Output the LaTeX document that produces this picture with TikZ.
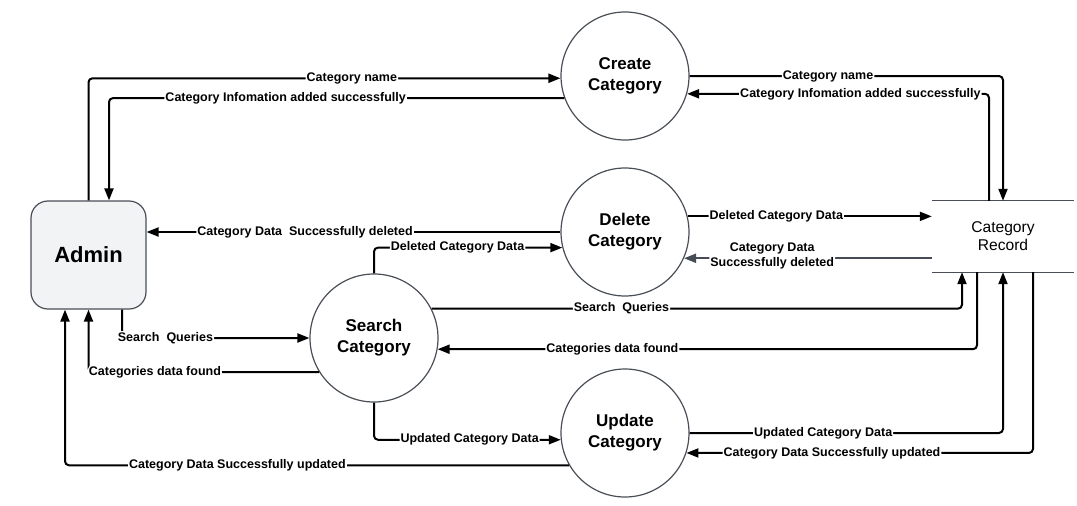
\documentclass[tikz,border=0pt]{standalone}
\usepackage{fontspec}
\setmainfont{Liberation Sans}
\usetikzlibrary{arrows.meta,calc}
\definecolor{edgegray}{HTML}{4A4F57}
\definecolor{admfill}{HTML}{F2F3F5}
\definecolor{arrgray}{HTML}{464C55}
\begin{document}
\begin{tikzpicture}[x=1pt,y=-1pt,
 proc/.style={circle,draw=edgegray,line width=1.2pt,minimum size=128pt,inner sep=0pt,align=center,font=\bfseries\fontsize{17}{21}\selectfont},
 flow/.style={line width=2pt,rounded corners=4pt,-{Triangle[length=12pt,width=9pt]}},
 lbl/.style={fill=white,inner sep=1pt,text=black,align=center,font=\bfseries\fontsize{12.5}{15}\selectfont}]
\useasboundingbox (0,0) rectangle (1077,506);
% nodes
\node[proc] (cc) at (625,76) {Create\\Category};
\node[proc] (dc) at (625,232) {Delete\\Category};
\node[proc] (sc) at (374,338) {Search\\Category};
\node[proc] (uc) at (625,433) {Update\\Category};
\node[draw=edgegray,fill=admfill,rounded corners=17pt,line width=1.2pt,minimum width=115pt,minimum height=108pt,font=\bfseries\fontsize{22}{26}\selectfont] (adm) at (88.5,255) {Admin};
\node[minimum width=142pt,minimum height=71pt,inner sep=0pt,align=center,font=\fontsize{15.6}{18}\selectfont] (rec) at (1003,236.5) {Category\\Record};
\draw[edgegray,line width=1.2pt] (rec.north west) -- (rec.north east) (rec.south west) -- (rec.south east);
% flows
\draw[flow] (adm.north) |- node[lbl,pos=0.779]{Category name} (cc.182);
\draw[flow] (cc.200) -| node[lbl,pos=0.306]{Category Infomation added successfully} ($(adm.north)+(20.5,0)$);
\draw[flow] (cc.east) -| node[lbl,pos=0.221]{Category name} (rec.north);
\draw[flow] ($(rec.north)+(-14,0)$) |- node[lbl,pos=0.713]{Category Infomation added successfully} (cc.-16);
\draw[flow] (dc.west) -- node[lbl,pos=0.617]{Category Data~~Successfully deleted} (dc.west -| adm.east);
\draw[flow] (sc.north) |- node[lbl,pos=0.722]{Deleted Category Data} (dc.194);
\draw[flow] (dc.14) -- node[lbl,pos=0.363]{Deleted Category Data} (dc.14 -| rec.west);
\draw[flow,draw=arrgray] (dc.-24 -| rec.west) -- node[lbl,pos=0.644,yshift=2.5pt]{Category Data\\Successfully deleted} (dc.-24);
\draw[flow] (sc.27) -| node[lbl,pos=0.179]{Search~~Queries} ($(rec.south)+(-41,0)$);
\draw[flow] ($(rec.south)+(-26,0)$) |- node[lbl,pos=0.838]{Categories data found} (sc.-10);
\draw[flow] ($(adm.south)+(33.5,0)$) |- node[lbl,pos=0.616]{Search~~Queries} (sc.west);
\draw[flow] (sc.212) -| node[lbl,pos=0.356]{Categories data found} (adm.south);
\draw[flow] (sc.south) |- node[lbl,pos=0.756]{Updated Category Data} (uc.186);
\draw[flow] (uc.210) -| node[lbl,pos=0.329]{Category Data Successfully updated} ($(adm.south)+(-23.5,0)$);
\draw[flow] (uc.east) -| node[lbl,pos=0.213]{Updated Category Data} (rec.south);
\draw[flow] ($(rec.south)+(30,0)$) |- node[lbl,pos=0.79]{Category Data Successfully updated} (uc.-18);
\end{tikzpicture}
\end{document}
